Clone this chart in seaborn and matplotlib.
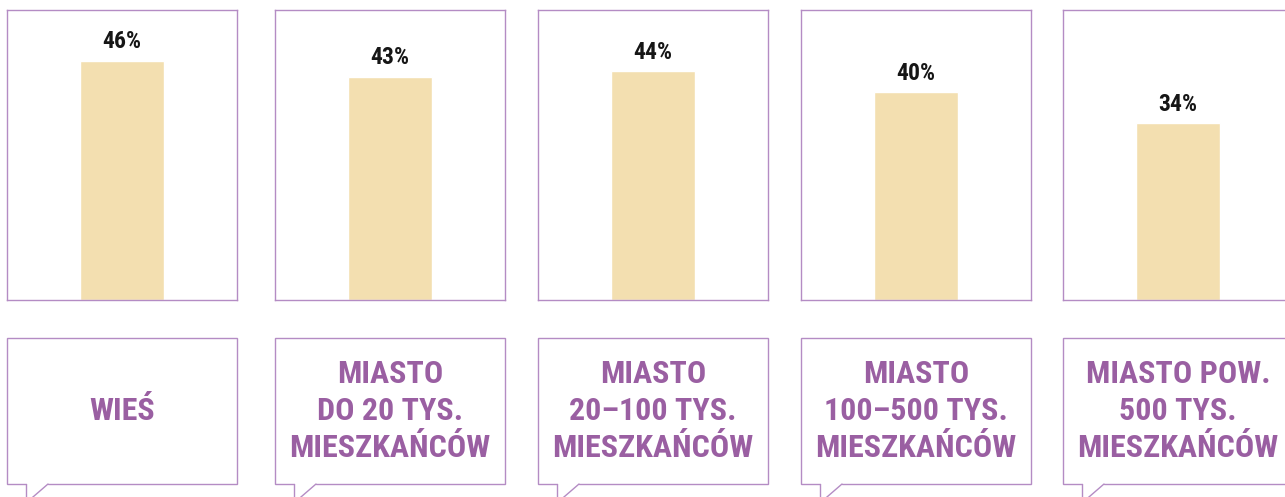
import matplotlib
matplotlib.use("Agg")
import matplotlib.pyplot as plt
from matplotlib import font_manager
from matplotlib.lines import Line2D
import seaborn as sns
import pandas as pd

# Data
categories = [
    "WIEŚ",
    "MIASTO\nDO 20 TYS.\nMIESZKAŃCÓW",
    "MIASTO\n20–100 TYS.\nMIESZKAŃCÓW",
    "MIASTO\n100–500 TYS.\nMIESZKAŃCÓW",
    "MIASTO POW.\n500 TYS.\nMIESZKAŃCÓW",
]
values = [46, 43, 44, 40, 34]
value_labels = ["46%", "43%", "44%", "40%", "34%"]

# Styling
BAR_COLOR = "#F3DFB0"
FRAME_COLOR = "#B48CC4"
LABEL_COLOR = "#9A5FA2"
VALUE_COLOR = "#161616"

sns.set_theme(style="white")

available = {f.name for f in font_manager.fontManager.ttflist}
font_family = None
for cand in ["Roboto Condensed", "Liberation Sans Narrow", "Open Sans Condensed",
             "DejaVu Sans Condensed"]:
    if cand in available:
        font_family = cand
        break
if font_family is None:
    font_family = "DejaVu Sans"
plt.rcParams["font.family"] = [font_family, "DejaVu Sans"]

W, H = 1285, 497
fig = plt.figure(figsize=(W / 100, H / 100), dpi=100)

lefts = [7, 275, 538, 801, 1063]
panel_w = 230
bar_top, bar_bottom = 10, 300
lab_top, lab_bottom = 338, 484
y_max = 55.8


def px_rect(x0, y0, x1, y1):
    return [x0 / W, (H - y1) / H, (x1 - x0) / W, (y1 - y0) / H]


for left, cat, val, vlab in zip(lefts, categories, values, value_labels):
    # Bar panel
    ax = fig.add_axes(px_rect(left, bar_top, left + panel_w, bar_bottom))
    df = pd.DataFrame({"kategoria": [cat], "odsetek": [val]})
    sns.barplot(data=df, x="kategoria", y="odsetek", color=BAR_COLOR,
                width=0.365, saturation=1, ax=ax)
    ax.set_xlim(-0.5, 0.5)
    ax.set_ylim(0, y_max)
    ax.set_xticks([])
    ax.set_yticks([])
    ax.set_xlabel("")
    ax.set_ylabel("")
    for sp in ax.spines.values():
        sp.set_visible(True)
        sp.set_color(FRAME_COLOR)
        sp.set_linewidth(1.0)
    ax.annotate(vlab, xy=(0, val), xytext=(0, 9), textcoords="offset points",
                ha="center", va="baseline", fontsize=17, fontweight="bold",
                color=VALUE_COLOR)

    # Speech-bubble label panel
    lax = fig.add_axes(px_rect(left, lab_top, left + panel_w, lab_bottom))
    lax.set_xlim(0, panel_w)
    lax.set_ylim(lab_bottom - lab_top, 0)
    lax.axis("off")
    h = lab_bottom - lab_top
    tx0, tx1 = 19, 41
    outline_x = [tx0, 0, 0, panel_w, panel_w, tx1]
    outline_y = [h, h, 0, 0, h, h]
    lax.add_line(Line2D(outline_x, outline_y, color=FRAME_COLOR, lw=1.0,
                        clip_on=False, solid_joinstyle="miter"))
    lax.add_line(Line2D([tx0, tx0], [h, h + 20], color=FRAME_COLOR, lw=1.0,
                        clip_on=False))
    lax.add_line(Line2D([tx1, tx0], [h, h + 19], color=FRAME_COLOR, lw=1.0,
                        clip_on=False))
    lax.text(panel_w / 2, h / 2, cat, ha="center", va="center",
             fontsize=23, fontweight="bold", color=LABEL_COLOR,
             linespacing=1.3, multialignment="center")

fig.savefig("out.png", dpi=100, facecolor="white")
